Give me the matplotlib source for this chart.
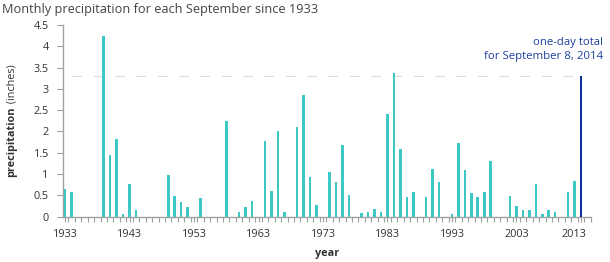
import matplotlib
matplotlib.use("Agg")
import matplotlib.pyplot as plt
import matplotlib.transforms as mtransforms
import numpy as np

# September precipitation (inches), years with no bar are zero
years = [1933, 1934, 1939, 1940, 1941, 1942, 1943, 1944, 1949, 1950,
         1951, 1952, 1954, 1958, 1960, 1961, 1962, 1964, 1965, 1966,
         1967, 1969, 1970, 1971, 1972, 1974, 1975, 1976, 1977, 1979,
         1980, 1981, 1982, 1983, 1984, 1985, 1986, 1987, 1989, 1990,
         1991, 1993, 1994, 1995, 1996, 1997, 1998, 1999, 2002, 2003,
         2004, 2005, 2006, 2007, 2008, 2009, 2011, 2012]
precip = [0.65, 0.58, 4.23, 1.46, 1.82, 0.07, 0.77, 0.16, 0.98, 0.49,
          0.34, 0.22, 0.44, 2.24, 0.12, 0.22, 0.38, 1.78, 0.60, 2.00,
          0.12, 2.10, 2.86, 0.93, 0.28, 1.06, 0.81, 1.68, 0.52, 0.09,
          0.12, 0.17, 0.12, 2.42, 3.38, 1.59, 0.47, 0.57, 0.47, 1.12,
          0.81, 0.06, 1.73, 1.09, 0.55, 0.47, 0.58, 1.30, 0.49, 0.25,
          0.15, 0.15, 0.77, 0.06, 0.15, 0.12, 0.58, 0.84]

# one-day total for September 8, 2014, drawn in the slot after the last bar
one_day_slot = 2013
one_day_total = 3.30

tick_years = [1933, 1943, 1953, 1963, 1973, 1983, 1993, 2003, 2013]
y_ticks = [0, 0.5, 1, 1.5, 2, 2.5, 3, 3.5, 4, 4.5]

plt.rcParams['font.family'] = ['Open Sans', 'DejaVu Sans']

fig = plt.figure(figsize=(6.1, 2.62), dpi=100)
ax = fig.add_axes([0.1028, 0.1729, 0.866, 0.7317])

ax.bar(years, precip, width=0.4, color='#3cc9c5', zorder=3)
ax.bar([one_day_slot], [one_day_total], width=0.45, color='#0c2f9e', zorder=3)

# dashed reference line at the one-day total
ax.hlines(one_day_total, years[0] + 1.1, one_day_slot - 0.6,
          colors='#dcdcdc', linewidth=0.8, linestyles=(0, (8.9, 10.3)), zorder=1)

ax.text(2016.4, 3.96, 'one-day total', ha='right', va='bottom',
        fontsize=8.2, color='#1f3f9f')
ax.text(2016.4, 3.63, 'for September 8, 2014', ha='right', va='bottom',
        fontsize=8.2, color='#1f3f9f')

ax.set_xlim(1932.64, 2014.55)
ax.set_ylim(0, 4.5)
ax.set_yticks(y_ticks)
ax.set_yticklabels(['0', '0.5', '1', '1.5', '2', '2.5', '3', '3.5', '4', '4.5'])
ax.set_xticks(tick_years)
ax.set_xticklabels([str(y) for y in tick_years])
ax.set_xticks(np.arange(1933.5, 2015, 1), minor=True)

for side in ['top', 'right']:
    ax.spines[side].set_visible(False)
for side in ['left', 'bottom']:
    ax.spines[side].set_color('#a0a0a0')
    ax.spines[side].set_linewidth(1.0)

ax.tick_params(axis='y', length=4, width=0.8, color='#a0a0a0', pad=6,
               labelsize=7.8, labelcolor='#333333')
ax.tick_params(axis='x', which='both', length=3.5, width=0.8, color='#a0a0a0',
               pad=5, labelsize=7.8, labelcolor='#333333')

# last label sits a little left of its slot in the reference
last = ax.get_xticklabels()[-1]
last.set_transform(last.get_transform() +
                   mtransforms.ScaledTranslation(-7 / 100, 0, fig.dpi_scale_trans))

fig.text(0.003, 0.962, 'Monthly precipitation for each September since 1933',
         ha='left', va='center', fontsize=9.2, color='#444444')

ax.set_xlabel('year', fontsize=7.8, fontweight='bold', color='#333333', labelpad=6)

# y label: bold word plus normal unit text
fig.canvas.draw()
renderer = fig.canvas.get_renderer()
t1 = fig.text(0, 0, 'precipitation', rotation=90, fontsize=7.8,
              fontweight='bold', color='#333333', ha='center', va='bottom')
t2 = fig.text(0, 0, ' (inches)', rotation=90, fontsize=7.8,
              color='#333333', ha='center', va='bottom')
h1 = t1.get_window_extent(renderer).height
h2 = t2.get_window_extent(renderer).height
center_px = (ax.get_position().y0 + ax.get_position().y1) / 2 * fig.bbox.height
start = center_px - (h1 + h2) / 2
x_px = 12
t1.set_position((x_px / fig.bbox.width, start / fig.bbox.height))
t2.set_position((x_px / fig.bbox.width, (start + h1) / fig.bbox.height))

fig.savefig('out.png', dpi=100)
